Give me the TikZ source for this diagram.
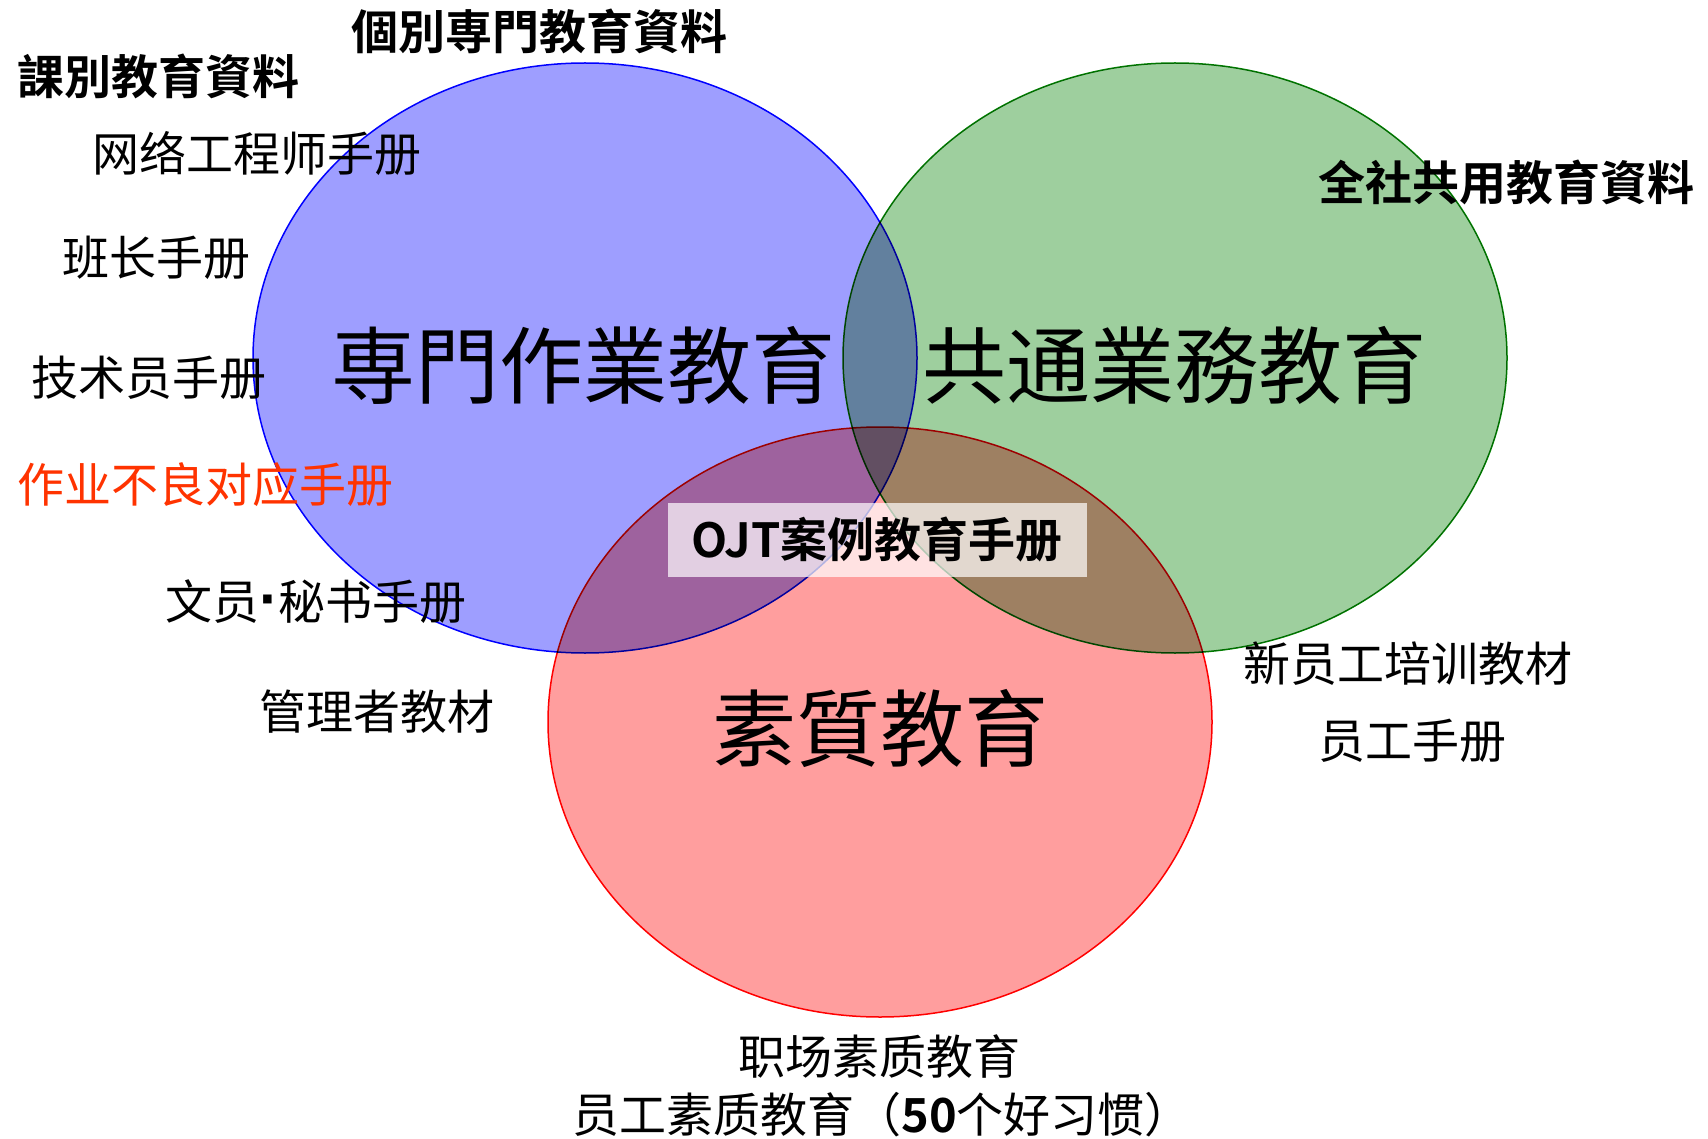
\documentclass[tikz,border=0pt]{standalone}
\usepackage{fontspec}
\usetikzlibrary{shapes.geometric}
\newfontfamily\cjk{Noto Sans CJK SC}[BoldFont={Noto Sans CJK SC Bold}]
\newfontfamily\latinb{Liberation Sans}
\definecolor{txtred}{RGB}{255,51,0}
\definecolor{grn}{RGB}{0,128,0}
\begin{document}
\begin{tikzpicture}[x=0.5pt,y=-0.5pt,
  venn/.style={ellipse, draw, line width=0.75pt, inner sep=0pt, minimum width=332pt, minimum height=295pt, fill opacity=0.38, blend mode=multiply},
  lbl/.style={font=\cjk\fontsize{23.5}{28}\selectfont, inner sep=0pt},
  blbl/.style={font=\cjk\bfseries\fontsize{23.5}{28}\selectfont, inner sep=0pt},
  big/.style={font=\cjk\fontsize{42}{50}\selectfont, inner sep=0pt}]
\useasboundingbox (0,0) rectangle (1708,1139);
\node[venn, draw=blue, fill=blue] (blueE) at (585,358) {};
\node[venn, draw=grn, fill=grn] (greenE) at (1175,358) {};
\node[venn, draw=red, fill=red] (redE) at (880,722) {};
\node[fill=white, fill opacity=0.7, minimum width=209.5pt, minimum height=37pt, inner sep=0pt] (ojtbox) at (877,540) {};
\node[blbl] (t1) at (539,31) {個別専門教育資料};
\node[blbl] (t2) at (159,76) {課別教育資料};
\node[lbl] (t3) at (257,153) {网络工程师手册};
\node[lbl] (t4) at (156,258) {班长手册};
\node[lbl] (t5) at (149,378) {技术员手册};
\node[lbl, text=txtred] (t6) at (206,485) {作业不良对应手册};
\node[lbl] (t7) at (316,602) {文员{\latinb\bfseries\fontsize{30}{30}\selectfont ·}秘书手册};
\node[lbl] (t8) at (377,712) {管理者教材};
\node[big] (b1) at (583,365) {専門作業教育};
\node[big] (b2) at (1174,365) {共通業務教育};
\node[big] (b3) at (880,728) {素質教育};
\node[blbl] (ojt) at (ojtbox) {OJT案例教育手册};
\node[blbl] (t9) at (1506,182) {全社共用教育資料};
\node[lbl] (t10) at (1408,664) {新员工培训教材};
\node[lbl] (t11) at (1412,741) {员工手册};
\node[lbl] (t12) at (879,1057) {职场素质教育};
\node[lbl] (t13) at (882,1115) {员工素质教育（\textbf{50}个好习惯）};
\end{tikzpicture}
\end{document}
